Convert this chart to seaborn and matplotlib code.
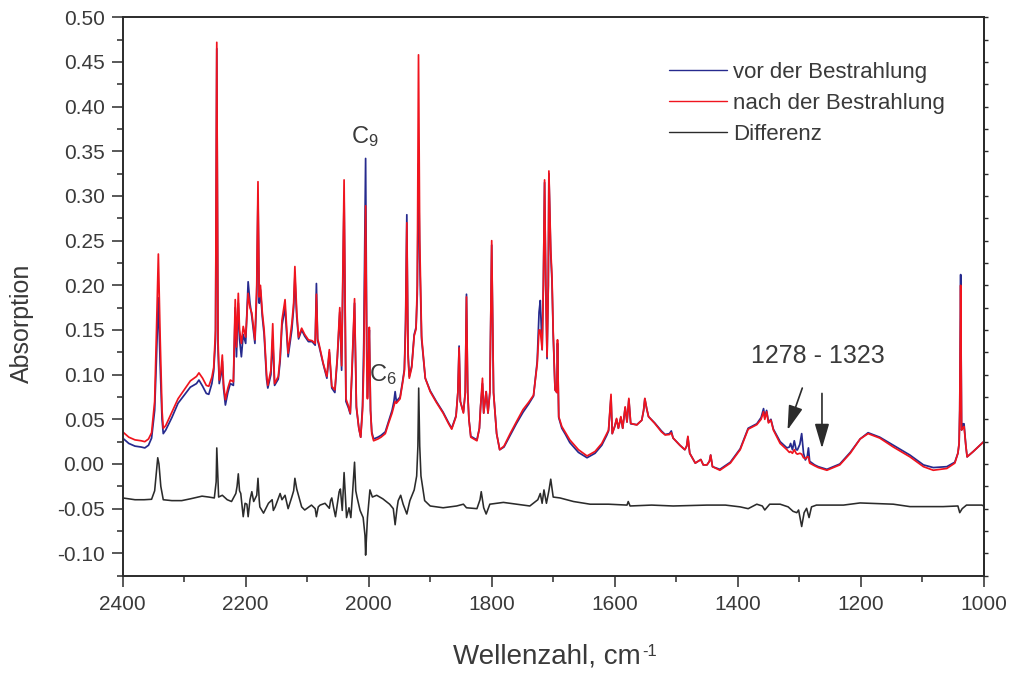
import matplotlib
matplotlib.use("Agg")
import numpy as np
import pandas as pd
import matplotlib.pyplot as plt
import seaborn as sns
from matplotlib.ticker import MultipleLocator, FormatStrFormatter

# ---------------------------------------------------------------
# IR spectra: wavenumber (cm^-1), absorbance before / after irradiation
# ---------------------------------------------------------------
wellenzahl = [
    2400, 2390, 2380, 2370, 2364, 2358, 2353, 2348, 2345, 2342, 2339, 2336, 2334, 2330,
    2320, 2310, 2300, 2290, 2280, 2276, 2270, 2264, 2260, 2255, 2252, 2249, 2247, 2245,
    2243, 2240, 2238, 2236, 2233, 2229, 2225, 2220, 2217, 2215, 2212, 2210, 2207, 2204,
    2200, 2196, 2193, 2190, 2185, 2182, 2180, 2178, 2176, 2173, 2170, 2166, 2164, 2159,
    2156, 2153, 2147, 2144, 2141, 2136, 2131, 2125, 2122, 2120, 2117, 2114, 2109, 2104,
    2098, 2092, 2087, 2085, 2083, 2081, 2074, 2068, 2064, 2060, 2055, 2051, 2047, 2044,
    2040, 2037, 2033, 2030, 2027, 2023, 2020, 2016, 2013, 2010, 2008, 2005, 2003, 2002,
    2000, 1999, 1997, 1995, 1992, 1985, 1980, 1973, 1968, 1962, 1959, 1957, 1955, 1949,
    1945, 1942, 1940, 1938, 1936, 1934, 1930, 1926, 1923, 1921, 1919, 1917, 1914, 1908,
    1900, 1890, 1879, 1870, 1865, 1858, 1855, 1853, 1851, 1846, 1843, 1841, 1839, 1837,
    1834, 1824, 1820, 1818, 1815, 1813, 1809, 1806, 1803, 1800, 1797, 1792, 1787, 1780,
    1770, 1760, 1749, 1740, 1732, 1726, 1723, 1721, 1718, 1716, 1714, 1712, 1710, 1708,
    1707, 1704, 1702, 1700, 1697, 1694, 1693, 1691, 1686, 1680, 1673, 1659, 1645, 1632,
    1621, 1613, 1610, 1606, 1604, 1600, 1597, 1594, 1590, 1587, 1583, 1580, 1577, 1574,
    1564, 1556, 1553, 1551, 1548, 1545, 1535, 1524, 1518, 1511, 1508, 1505, 1494, 1486,
    1483, 1481, 1478, 1469, 1460, 1456, 1450, 1446, 1444, 1441, 1429, 1412, 1396, 1383,
    1369, 1362, 1358, 1356, 1353, 1350, 1346, 1342, 1331, 1320, 1316, 1314, 1311, 1308,
    1305, 1303, 1299, 1296, 1293, 1290, 1287, 1285, 1283, 1275, 1269, 1255, 1234, 1217,
    1201, 1188, 1169, 1147, 1120, 1098, 1082, 1060, 1047, 1042, 1040, 1039, 1037.5, 1036,
    1034, 1032, 1029, 1027, 1017, 1003, 1000,
]

vor_bestrahlung = [
    0.029, 0.023, 0.020, 0.019, 0.018, 0.021, 0.029, 0.060, 0.120, 0.186, 0.110, 0.050, 0.034, 0.038,
    0.052, 0.068, 0.077, 0.086, 0.090, 0.094, 0.087, 0.079, 0.078, 0.090, 0.104, 0.140, 0.465, 0.130,
    0.090, 0.100, 0.115, 0.085, 0.066, 0.080, 0.090, 0.088, 0.175, 0.120, 0.180, 0.140, 0.120, 0.145,
    0.135, 0.204, 0.180, 0.165, 0.135, 0.190, 0.300, 0.180, 0.195, 0.165, 0.145, 0.095, 0.085, 0.100,
    0.140, 0.088, 0.095, 0.115, 0.155, 0.175, 0.120, 0.150, 0.175, 0.210, 0.165, 0.140, 0.150, 0.143,
    0.137, 0.137, 0.133, 0.202, 0.138, 0.133, 0.112, 0.096, 0.125, 0.085, 0.080, 0.118, 0.170, 0.105,
    0.300, 0.070, 0.063, 0.056, 0.105, 0.180, 0.063, 0.040, 0.030, 0.065, 0.136, 0.342, 0.120, 0.075,
    0.120, 0.150, 0.060, 0.036, 0.028, 0.030, 0.032, 0.036, 0.047, 0.060, 0.070, 0.081, 0.070, 0.075,
    0.092, 0.106, 0.160, 0.279, 0.125, 0.098, 0.110, 0.145, 0.153, 0.190, 0.336, 0.230, 0.140, 0.096,
    0.082, 0.070, 0.058, 0.046, 0.040, 0.054, 0.080, 0.132, 0.070, 0.058, 0.080, 0.190, 0.080, 0.050,
    0.031, 0.027, 0.040, 0.065, 0.090, 0.057, 0.081, 0.057, 0.080, 0.245, 0.080, 0.034, 0.016, 0.019,
    0.032, 0.045, 0.058, 0.067, 0.076, 0.115, 0.170, 0.183, 0.128, 0.200, 0.315, 0.195, 0.118, 0.200,
    0.325, 0.235, 0.205, 0.145, 0.083, 0.080, 0.135, 0.052, 0.040, 0.033, 0.024, 0.013, 0.007, 0.012,
    0.021, 0.032, 0.037, 0.075, 0.034, 0.042, 0.050, 0.040, 0.052, 0.040, 0.063, 0.047, 0.072, 0.045,
    0.044, 0.049, 0.060, 0.073, 0.062, 0.053, 0.046, 0.037, 0.033, 0.034, 0.037, 0.029, 0.021, 0.016,
    0.020, 0.030, 0.012, 0.001, 0.005, -0.001, -0.001, 0.003, 0.010, -0.003, -0.006, 0.002, 0.017, 0.040,
    0.045, 0.052, 0.062, 0.052, 0.060, 0.047, 0.050, 0.039, 0.025, 0.018, 0.019, 0.023, 0.016, 0.026,
    0.016, 0.0157, 0.022, 0.034, 0.012, 0.0045, 0.008, 0.018, 0.003, -0.001, -0.003, -0.006, 0.000, 0.013,
    0.028, 0.035, 0.030, 0.021, 0.010, -0.001, -0.004, -0.003, 0.002, 0.012, 0.023, 0.060, 0.212, 0.038,
    0.045, 0.045, 0.020, 0.008, 0.014, 0.023, 0.025,
]

nach_bestrahlung = [
    0.036, 0.030, 0.027, 0.026, 0.025, 0.028, 0.035, 0.070, 0.150, 0.235, 0.140, 0.060, 0.040, 0.043,
    0.058, 0.073, 0.083, 0.093, 0.098, 0.102, 0.096, 0.088, 0.087, 0.097, 0.108, 0.150, 0.472, 0.140,
    0.094, 0.105, 0.122, 0.090, 0.072, 0.085, 0.094, 0.092, 0.184, 0.131, 0.191, 0.150, 0.135, 0.154,
    0.142, 0.191, 0.175, 0.169, 0.139, 0.200, 0.316, 0.187, 0.200, 0.170, 0.150, 0.100, 0.088, 0.105,
    0.157, 0.090, 0.098, 0.120, 0.161, 0.184, 0.124, 0.157, 0.180, 0.221, 0.170, 0.142, 0.152, 0.145,
    0.139, 0.138, 0.135, 0.190, 0.140, 0.135, 0.113, 0.098, 0.128, 0.087, 0.083, 0.120, 0.175, 0.110,
    0.318, 0.073, 0.065, 0.057, 0.110, 0.185, 0.065, 0.040, 0.030, 0.060, 0.110, 0.289, 0.110, 0.073,
    0.120, 0.153, 0.060, 0.034, 0.026, 0.028, 0.030, 0.034, 0.045, 0.057, 0.065, 0.070, 0.068, 0.073,
    0.090, 0.104, 0.150, 0.270, 0.120, 0.096, 0.108, 0.1435, 0.151, 0.200, 0.458, 0.250, 0.1435, 0.096,
    0.081, 0.069, 0.057, 0.045, 0.039, 0.053, 0.080, 0.130, 0.070, 0.057, 0.080, 0.187, 0.080, 0.050,
    0.030, 0.026, 0.040, 0.065, 0.096, 0.057, 0.081, 0.057, 0.080, 0.250, 0.080, 0.034, 0.016, 0.020,
    0.034, 0.047, 0.061, 0.069, 0.077, 0.112, 0.150, 0.150, 0.128, 0.200, 0.318, 0.200, 0.120, 0.200,
    0.328, 0.240, 0.210, 0.148, 0.083, 0.080, 0.139, 0.053, 0.042, 0.035, 0.027, 0.016, 0.009, 0.014,
    0.023, 0.034, 0.038, 0.078, 0.034, 0.042, 0.051, 0.040, 0.053, 0.040, 0.064, 0.047, 0.0735, 0.0455,
    0.0437, 0.049, 0.060, 0.0735, 0.062, 0.053, 0.0455, 0.036, 0.0325, 0.033, 0.035, 0.029, 0.021, 0.016,
    0.020, 0.031, 0.012, 0.001, 0.005, -0.001, -0.001, 0.003, 0.010, -0.003, -0.007, 0.001, 0.016, 0.039,
    0.044, 0.050, 0.0585, 0.050, 0.0585, 0.046, 0.049, 0.038, 0.023, 0.016, 0.013, 0.014, 0.012, 0.016,
    0.012, 0.011, 0.012, 0.011, 0.007, 0.006, 0.008, 0.008, 0.001, -0.002, -0.004, -0.007, -0.001, 0.012,
    0.028, 0.034, 0.029, 0.019, 0.008, -0.003, -0.007, -0.005, 0.001, 0.012, 0.023, 0.060, 0.200, 0.038,
    0.040, 0.042, 0.020, 0.008, 0.014, 0.023, 0.025,
]

# difference spectrum (offset below the zero line)
wellenzahl_diff = [
    2400, 2380, 2365, 2353, 2348, 2345, 2343, 2341, 2338, 2334, 2320, 2304, 2290, 2271,
    2260, 2251, 2248, 2247, 2245, 2244, 2238, 2230, 2223, 2216, 2214, 2212, 2210, 2208,
    2204, 2201, 2198, 2196, 2193, 2190, 2187, 2182, 2180, 2178, 2177, 2171, 2163, 2157,
    2155, 2152, 2144, 2141, 2136, 2131, 2125, 2122, 2120, 2117, 2115, 2109, 2104, 2093,
    2087, 2085, 2082, 2079, 2071, 2064, 2062, 2060, 2057, 2054, 2051, 2048, 2046, 2043,
    2040, 2036, 2032, 2029, 2026, 2023, 2021, 2019, 2014, 2009, 2006, 2005, 2003, 2002,
    1998, 1994, 1987, 1977, 1966, 1960, 1957, 1954, 1952, 1948, 1944, 1938, 1933, 1926,
    1922, 1920, 1918.7, 1917, 1915, 1909, 1900, 1879, 1857, 1846, 1841, 1824, 1819, 1817,
    1813, 1809, 1803, 1781, 1738, 1725, 1721, 1718, 1715, 1711, 1707, 1704, 1700, 1689,
    1667, 1640, 1610, 1580, 1578, 1575, 1540, 1505, 1450, 1420, 1396, 1383, 1369, 1360,
    1356, 1348, 1331, 1318, 1310, 1304, 1301, 1296, 1292, 1288, 1284, 1280, 1272, 1228,
    1201, 1147, 1120, 1066, 1042, 1039, 1035, 1028, 1003, 1000,
]

differenz = [
    -0.038, -0.040, -0.040, -0.0395, -0.030, -0.008, 0.007, 0.000, -0.025, -0.040, -0.041, -0.041, -0.039, -0.036,
    -0.037, -0.038, -0.020, 0.018, -0.020, -0.037, -0.035, -0.040, -0.042, -0.033, -0.025, -0.011, -0.030, -0.033,
    -0.059, -0.044, -0.045, -0.059, -0.040, -0.031, -0.042, -0.035, -0.016, -0.040, -0.048, -0.055, -0.044, -0.040,
    -0.052, -0.048, -0.033, -0.040, -0.035, -0.050, -0.037, -0.030, -0.016, -0.028, -0.033, -0.048, -0.0515, -0.046,
    -0.050, -0.059, -0.048, -0.046, -0.044, -0.0496, -0.041, -0.038, -0.049, -0.059, -0.045, -0.031, -0.028, -0.052,
    -0.0096, -0.060, -0.049, -0.060, -0.030, 0.002, -0.030, -0.037, -0.052, -0.060, -0.080, -0.102, -0.075, -0.060,
    -0.029, -0.037, -0.035, -0.039, -0.045, -0.050, -0.068, -0.050, -0.041, -0.035, -0.045, -0.056, -0.041, -0.029,
    -0.0135, 0.020, 0.085, 0.020, -0.0135, -0.041, -0.047, -0.049, -0.047, -0.045, -0.049, -0.050, -0.040, -0.031,
    -0.049, -0.056, -0.045, -0.043, -0.047, -0.040, -0.033, -0.044, -0.029, -0.044, -0.030, -0.017, -0.037, -0.038,
    -0.042, -0.045, -0.045, -0.046, -0.042, -0.047, -0.046, -0.047, -0.046, -0.046, -0.048, -0.050, -0.045, -0.047,
    -0.0515, -0.045, -0.045, -0.048, -0.053, -0.0545, -0.0515, -0.070, -0.0545, -0.0496, -0.060, -0.048, -0.046, -0.046,
    -0.0436, -0.045, -0.0477, -0.0477, -0.047, -0.0545, -0.050, -0.046, -0.046, -0.047,
]

spektren = pd.DataFrame({
    "Wellenzahl": wellenzahl,
    "vor": vor_bestrahlung,
    "nach": nach_bestrahlung,
})
diff_df = pd.DataFrame({"Wellenzahl": wellenzahl_diff, "Differenz": differenz})

BLUE = "#262a8e"
RED = "#f0141e"
DARK = "#2b2b2b"
TEXT = "#3a3a3a"

sns.set_theme(style="ticks")
plt.rcParams["font.family"] = ["Liberation Sans", "DejaVu Sans"]
plt.rcParams["mathtext.fontset"] = "custom"
plt.rcParams["mathtext.rm"] = "Liberation Sans"
plt.rcParams["mathtext.it"] = "Liberation Sans"
plt.rcParams["axes.unicode_minus"] = False

fig = plt.figure(figsize=(10.13, 6.74), dpi=100)
ax = fig.add_axes([0.1211, 0.1459, 0.8500, 0.8284])

sns.lineplot(data=spektren, x="Wellenzahl", y="vor", color=BLUE, lw=1.25,
             sort=False, estimator=None, ax=ax, label="vor der Bestrahlung")
sns.lineplot(data=spektren, x="Wellenzahl", y="nach", color=RED, lw=1.25,
             sort=False, estimator=None, ax=ax, label="nach der Bestrahlung")
sns.lineplot(data=diff_df, x="Wellenzahl", y="Differenz", color=DARK, lw=1.15,
             sort=False, estimator=None, ax=ax, label="Differenz")

ax.set_xlim(2400, 1000)
ax.set_ylim(-0.125, 0.5)

ax.xaxis.set_major_locator(MultipleLocator(200))
ax.xaxis.set_minor_locator(MultipleLocator(100))
ax.yaxis.set_major_locator(MultipleLocator(0.05))
ax.yaxis.set_minor_locator(MultipleLocator(0.025))
ax.yaxis.set_major_formatter(FormatStrFormatter("%.2f"))

for side in ["left", "bottom", "right", "top"]:
    ax.spines[side].set_visible(True)
    ax.spines[side].set_color(DARK)
    ax.spines[side].set_linewidth(1.4)

ax.tick_params(axis="both", which="major", direction="out", length=8, width=1.1,
               color=DARK, labelcolor=TEXT, labelsize=15)
ax.tick_params(axis="both", which="minor", direction="out", length=4, width=1.1, color=DARK)
ax.tick_params(axis="x", which="major", pad=6)
ax.tick_params(axis="y", which="major", pad=5)

# short outward ticks on the right-hand frame
right = ax.secondary_yaxis("right")
right.set_yticks(np.arange(-0.125, 0.5001, 0.025))
right.tick_params(direction="out", length=3, width=1.0, color=DARK, labelright=False)
right.spines["right"].set_linewidth(1.4)
right.spines["right"].set_color(DARK)

# axis titles; the small "-1" exponent is set as its own text
ax.set_xlabel("Wellenzahl, cm", fontsize=20, color=TEXT)
ax.set_ylabel("Absorption", fontsize=18, color=TEXT)
ax.xaxis.set_label_coords(0.4922, -0.1456)
ax.xaxis.label.set(va="center", ha="center")
ax.yaxis.set_label_coords(-0.117, 0.4525)
ax.yaxis.label.set(va="center", ha="center")
fig.text(642 / 1013, 1 - 651 / 674, "-1", fontsize=12, color=TEXT, ha="left", va="center")

# peak labels
ax.text(2006, 0.367, r"C$_9$", fontsize=17, color=TEXT, ha="center", va="center")
ax.text(1977, 0.100, r"C$_6$", fontsize=17, color=TEXT, ha="center", va="center")
ax.text(1269, 0.121, "1278 - 1323", fontsize=18, color=TEXT, ha="center", va="center")

arrow_style = dict(arrowstyle="-|>,head_length=0.75,head_width=0.22", color=DARK, lw=1.2,
                   shrinkA=0, shrinkB=0, mutation_scale=20)
ax.annotate("", xy=(1319, 0.038), xytext=(1295, 0.085), arrowprops=arrow_style)
ax.annotate("", xy=(1263, 0.0175), xytext=(1263, 0.079), arrowprops=arrow_style)

leg = ax.legend(loc="upper left", bbox_to_anchor=(669 / 1013, 1 - 62 / 674),
                bbox_transform=fig.transFigure, frameon=False, fontsize=16,
                handlelength=2.6, handletextpad=0.27, labelspacing=0.45,
                borderpad=0, borderaxespad=0)
for t in leg.get_texts():
    t.set_color(TEXT)
for h in leg.get_lines():
    h.set_linewidth(1.0)

fig.savefig("out.png", dpi=100)
